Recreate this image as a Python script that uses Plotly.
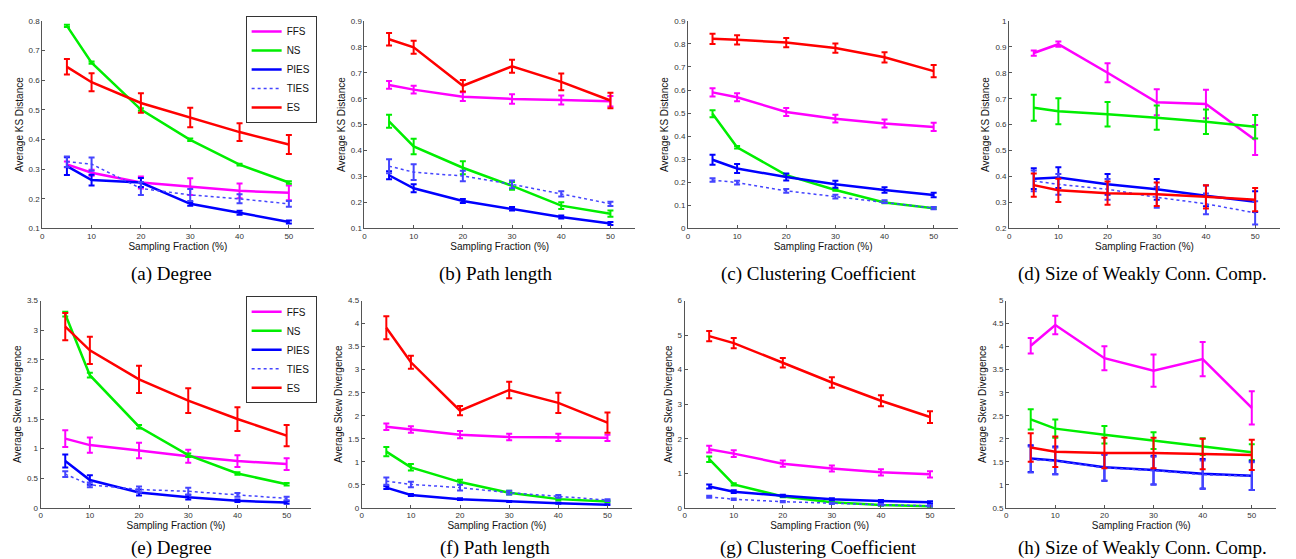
import plotly.graph_objects as go

W, H = 1296, 559

fractions = [5, 10, 20, 30, 40, 50]
methods = ["FFS", "NS", "PIES", "TIES", "ES"]

# (a) Degree - KS
ks_degree = {"FFS": [0.316, 0.288, 0.255, 0.241, 0.227, 0.220],
             "NS": [0.783, 0.659, 0.501, 0.399, 0.315, 0.255],
             "PIES": [0.310, 0.263, 0.255, 0.183, 0.153, 0.122],
             "TIES": [0.325, 0.317, 0.235, 0.213, 0.200, 0.183],
             "ES": [0.645, 0.593, 0.523, 0.474, 0.425, 0.383]}
ks_degree_err = {"FFS": [0.010, 0.010, 0.020, 0.028, 0.025, 0.025],
                 "NS": [0.004, 0.004, 0.004, 0.004, 0.003, 0.004],
                 "PIES": [0.030, 0.018, 0.015, 0.006, 0.007, 0.005],
                 "TIES": [0.018, 0.022, 0.022, 0.020, 0.015, 0.010],
                 "ES": [0.026, 0.030, 0.033, 0.033, 0.030, 0.032]}

# (b) Path length - KS
ks_path = {"FFS": [0.653, 0.635, 0.608, 0.599, 0.595, 0.590],
           "NS": [0.513, 0.416, 0.334, 0.264, 0.188, 0.157],
           "PIES": [0.305, 0.255, 0.206, 0.176, 0.144, 0.119],
           "TIES": [0.340, 0.317, 0.302, 0.270, 0.233, 0.195],
           "ES": [0.829, 0.798, 0.650, 0.725, 0.665, 0.593]}
ks_path_err = {"FFS": [0.015, 0.015, 0.017, 0.018, 0.017, 0.020],
               "NS": [0.025, 0.030, 0.025, 0.015, 0.013, 0.012],
               "PIES": [0.015, 0.015, 0.008, 0.007, 0.006, 0.006],
               "TIES": [0.027, 0.030, 0.020, 0.015, 0.010, 0.008],
               "ES": [0.024, 0.025, 0.022, 0.025, 0.032, 0.030]}

# (c) Clustering coefficient - KS
ks_clust = {"FFS": [0.590, 0.569, 0.505, 0.476, 0.455, 0.440],
            "NS": [0.497, 0.352, 0.231, 0.167, 0.113, 0.088],
            "PIES": [0.298, 0.260, 0.223, 0.192, 0.167, 0.145],
            "TIES": [0.210, 0.199, 0.163, 0.138, 0.116, 0.088],
            "ES": [0.822, 0.818, 0.806, 0.782, 0.742, 0.682]}
ks_clust_err = {"FFS": [0.018, 0.017, 0.017, 0.017, 0.017, 0.018],
                "NS": [0.015, 0.005, 0.004, 0.004, 0.004, 0.004],
                "PIES": [0.022, 0.020, 0.015, 0.015, 0.012, 0.010],
                "TIES": [0.008, 0.008, 0.008, 0.008, 0.006, 0.005],
                "ES": [0.022, 0.020, 0.020, 0.020, 0.022, 0.027]}

# (d) Size of weakly connected components - KS
ks_wcc = {"FFS": [0.876, 0.910, 0.800, 0.686, 0.680, 0.541],
          "NS": [0.665, 0.652, 0.640, 0.627, 0.611, 0.592],
          "PIES": [0.392, 0.396, 0.370, 0.351, 0.326, 0.303],
          "TIES": [0.383, 0.370, 0.351, 0.320, 0.295, 0.260],
          "ES": [0.367, 0.347, 0.336, 0.332, 0.322, 0.311]}
ks_wcc_err = {"FFS": [0.010, 0.010, 0.037, 0.050, 0.055, 0.058],
              "NS": [0.050, 0.050, 0.047, 0.047, 0.047, 0.045],
              "PIES": [0.040, 0.040, 0.040, 0.040, 0.040, 0.040],
              "TIES": [0.040, 0.040, 0.040, 0.040, 0.040, 0.045],
              "ES": [0.045, 0.045, 0.045, 0.045, 0.045, 0.045]}

# (e) Degree - skew divergence
sd_degree = {"FFS": [1.17, 1.06, 0.97, 0.87, 0.79, 0.74],
             "NS": [3.27, 2.24, 1.37, 0.89, 0.58, 0.40],
             "PIES": [0.79, 0.47, 0.26, 0.18, 0.12, 0.09],
             "TIES": [0.57, 0.39, 0.31, 0.28, 0.22, 0.16],
             "ES": [3.06, 2.66, 2.17, 1.81, 1.50, 1.22]}
sd_degree_err = {"FFS": [0.14, 0.13, 0.13, 0.11, 0.10, 0.10],
                 "NS": [0.04, 0.04, 0.03, 0.03, 0.02, 0.02],
                 "PIES": [0.11, 0.08, 0.05, 0.04, 0.02, 0.02],
                 "TIES": [0.05, 0.04, 0.05, 0.06, 0.03, 0.03],
                 "ES": [0.23, 0.23, 0.23, 0.21, 0.20, 0.18]}

# (f) Path length - skew divergence
sd_path = {"FFS": [1.76, 1.70, 1.59, 1.54, 1.53, 1.52],
           "NS": [1.22, 0.88, 0.56, 0.33, 0.19, 0.14],
           "PIES": [0.44, 0.28, 0.19, 0.14, 0.10, 0.07],
           "TIES": [0.58, 0.51, 0.44, 0.33, 0.25, 0.17],
           "ES": [3.91, 3.16, 2.11, 2.56, 2.28, 1.85]}
sd_path_err = {"FFS": [0.07, 0.07, 0.08, 0.07, 0.08, 0.07],
               "NS": [0.10, 0.07, 0.05, 0.04, 0.03, 0.02],
               "PIES": [0.03, 0.02, 0.02, 0.01, 0.01, 0.01],
               "TIES": [0.08, 0.06, 0.06, 0.04, 0.03, 0.02],
               "ES": [0.25, 0.14, 0.10, 0.18, 0.22, 0.22]}

# (g) Clustering coefficient - skew divergence
sd_clust = {"FFS": [1.70, 1.57, 1.28, 1.14, 1.03, 0.97],
            "NS": [1.41, 0.68, 0.33, 0.16, 0.08, 0.05],
            "PIES": [0.62, 0.47, 0.35, 0.25, 0.20, 0.16],
            "TIES": [0.32, 0.25, 0.18, 0.13, 0.09, 0.06],
            "ES": [4.97, 4.77, 4.20, 3.63, 3.10, 2.63]}
sd_clust_err = {"FFS": [0.10, 0.10, 0.09, 0.09, 0.09, 0.09],
                "NS": [0.08, 0.03, 0.02, 0.02, 0.02, 0.02],
                "PIES": [0.06, 0.04, 0.03, 0.03, 0.03, 0.03],
                "TIES": [0.03, 0.02, 0.02, 0.02, 0.02, 0.02],
                "ES": [0.15, 0.15, 0.14, 0.15, 0.16, 0.17]}

# (h) Size of weakly connected components - skew divergence
sd_wcc = {"FFS": [4.02, 4.47, 3.75, 3.48, 3.73, 2.67],
          "NS": [2.42, 2.22, 2.09, 1.96, 1.83, 1.71],
          "PIES": [1.57, 1.53, 1.38, 1.32, 1.24, 1.20],
          "TIES": [1.55, 1.52, 1.37, 1.31, 1.22, 1.19],
          "ES": [1.81, 1.72, 1.69, 1.69, 1.67, 1.65]}
sd_wcc_err = {"FFS": [0.17, 0.20, 0.26, 0.35, 0.37, 0.36],
              "NS": [0.22, 0.20, 0.19, 0.18, 0.18, 0.17],
              "PIES": [0.29, 0.30, 0.29, 0.31, 0.32, 0.31],
              "TIES": [0.28, 0.29, 0.28, 0.30, 0.31, 0.30],
              "ES": [0.31, 0.33, 0.33, 0.33, 0.33, 0.33]}

captions = ["(a) Degree", "(b) Path length", "(c) Clustering Coefficient",
            "(d) Size of Weakly Conn. Comp.",
            "(e) Degree", "(f) Path length", "(g) Clustering Coefficient",
            "(h) Size of Weakly Conn. Comp."]

panels = [
    (ks_degree, ks_degree_err, [0.1, 0.8], 0.1, "Average KS Distance"),
    (ks_path, ks_path_err, [0.1, 0.9], 0.1, "Average KS Distance"),
    (ks_clust, ks_clust_err, [0, 0.9], 0.1, "Average KS Distance"),
    (ks_wcc, ks_wcc_err, [0.2, 1.0], 0.1, "Average KS Distance"),
    (sd_degree, sd_degree_err, [0, 3.5], 0.5, "Average Skew Divergence"),
    (sd_path, sd_path_err, [0, 4.5], 0.5, "Average Skew Divergence"),
    (sd_clust, sd_clust_err, [0, 6], 1, "Average Skew Divergence"),
    (sd_wcc, sd_wcc_err, [0.5, 5], 0.5, "Average Skew Divergence"),
]

colors = {"FFS": "#FF00FF", "NS": "#00EE00", "PIES": "#0000FF",
          "TIES": "#4444FF", "ES": "#FF0000"}

# plot-area pixel boxes (left, right) and row (top, bottom)
x_px = [(32.3, 304), (355, 626), (679, 949.7), (1000.7, 1271.7),
        (30.7, 301.7), (352.3, 623), (675.7, 946), (997.7, 1268.3)]
row_px = [(9, 220), (293.3, 504)]
col_centers = [162, 486, 810, 1134]
caption_y = [266, 545]

fig = go.Figure()
layout = dict(width=W, height=H, margin=dict(l=0, r=0, t=0, b=0),
              paper_bgcolor="white", plot_bgcolor="white",
              font=dict(family="Liberation Sans, Arial", color="#222"),
              showlegend=True)

annotations = []
for i, (means, errs, yr, dt, ytitle) in enumerate(panels):
    idx = "" if i == 0 else str(i + 1)
    row = 0 if i < 4 else 1
    xl, xr = x_px[i]
    yt, yb = row_px[row]
    xa = "x" + idx
    ya = "y" + idx
    legend_name = "legend" if i == 0 else ("legend2" if i == 4 else None)
    for m in methods:
        tr = dict(x=fractions, y=means[m], mode="lines", name=m,
                  line=dict(color=colors[m], width=2.5 if m != "TIES" else 1.5,
                            dash="dot" if m == "TIES" else "solid"),
                  error_y=dict(type="data", array=errs[m], color=colors[m],
                               thickness=2, width=3),
                  xaxis=xa, yaxis=ya)
        if legend_name:
            tr["legend"] = legend_name
            tr["showlegend"] = True
        else:
            tr["showlegend"] = False
        fig.add_trace(go.Scatter(**tr))
    axstyle = dict(showline=True, linecolor="#555", linewidth=1, ticks="inside",
                   ticklen=3, tickcolor="#555", showgrid=False, zeroline=False,
                   tickfont=dict(size=8, color="#333"), mirror=False)
    layout["xaxis" + idx] = dict(domain=[xl / W, xr / W], range=[0, 55],
                                 tickvals=[0, 10, 20, 30, 40, 50],
                                 anchor=ya,
                                 title=dict(text="Sampling Fraction (%)",
                                            font=dict(size=10, color="#111"),
                                            standoff=2),
                                 **axstyle)
    layout["yaxis" + idx] = dict(domain=[(H - yb) / H, (H - yt) / H], range=yr,
                                 dtick=dt, tick0=0, anchor=xa,
                                 title=dict(text=ytitle,
                                            font=dict(size=10, color="#111"),
                                            standoff=3),
                                 **axstyle)
    annotations.append(dict(text=captions[i], x=col_centers[i % 4] / W,
                            y=(H - caption_y[row]) / H, xref="paper", yref="paper",
                            showarrow=False, xanchor="center", yanchor="middle",
                            font=dict(family="Liberation Serif, Times New Roman",
                                      size=19, color="black")))

leg_common = dict(xanchor="left", yanchor="top", bgcolor="white",
                  bordercolor="#333", borderwidth=1,
                  font=dict(size=10, color="#111"), tracegroupgap=0,
                  itemwidth=30)
layout["legend"] = dict(x=236 / W, y=(H - 4) / H, **leg_common)
layout["legend2"] = dict(x=236 / W, y=(H - 289) / H, **leg_common)
layout["annotations"] = annotations
fig.update_layout(**layout)
fig.write_html("out.html")
